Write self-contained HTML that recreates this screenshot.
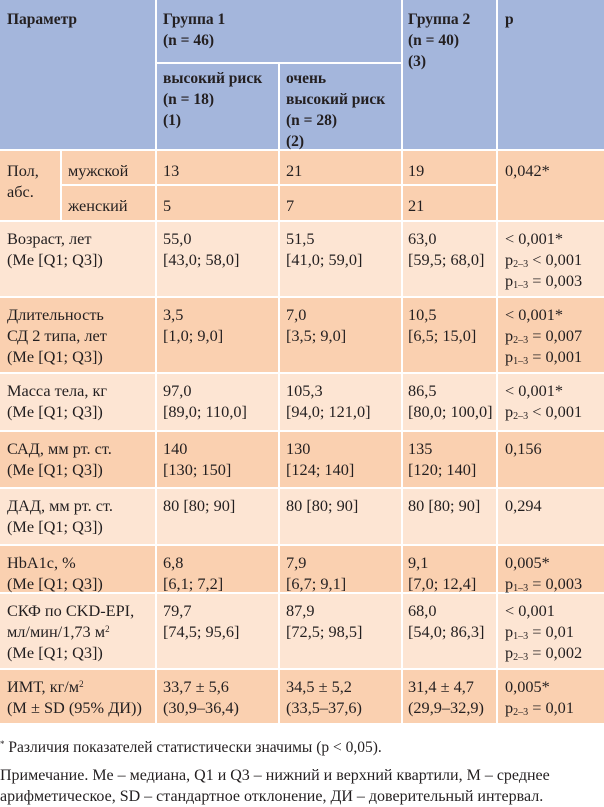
<!DOCTYPE html>
<html><head><meta charset="utf-8"><style>
body{margin:0;width:604px;height:800px;background:#fff;position:relative;font-family:"Liberation Serif",serif;font-size:16.3px;color:#231f20;overflow:hidden}
.c{position:absolute;box-sizing:border-box}
.t{position:absolute;line-height:21px;white-space:nowrap}
.h{font-weight:bold;font-size:15.5px}
.b{background:#a4b6dc}.d{background:#fad0b0}.l{background:#fde5d3}
sub{font-size:10px;vertical-align:-2px;line-height:0}
sup{font-size:9px;vertical-align:5px;line-height:0}
</style></head><body>
<div class="c b" style="left:0;top:0;width:155px;height:149px"></div>
<div class="c b" style="left:157px;top:0;width:244px;height:62px"></div>
<div class="c b" style="left:157px;top:64px;width:121px;height:85px"></div>
<div class="c b" style="left:280px;top:64px;width:121px;height:85px"></div>
<div class="c b" style="left:403px;top:0;width:93px;height:149px"></div>
<div class="c b" style="left:498px;top:0;width:106px;height:149px"></div>
<div class="t h" style="left:7px;top:9px">Параметр</div>
<div class="t h" style="left:163px;top:9px">Группа 1<br>(n = 46)</div>
<div class="t h" style="left:408px;top:9px">Группа 2<br>(n = 40)<br>(3)</div>
<div class="t h" style="left:505px;top:9px">p</div>
<div class="t h" style="left:163px;top:68px">высокий риск<br>(n = 18)<br>(1)</div>
<div class="t h" style="left:286px;top:68px">очень<br>высокий риск<br>(n = 28)<br>(2)</div>
<div class="c d" style="left:0;top:151px;width:60px;height:69px"></div>
<div class="c d" style="left:62px;top:151px;width:93px;height:33px"></div>
<div class="c d" style="left:62px;top:186px;width:93px;height:34px"></div>
<div class="c d" style="left:157px;top:151px;width:121px;height:33px"></div>
<div class="c d" style="left:157px;top:186px;width:121px;height:34px"></div>
<div class="c d" style="left:280px;top:151px;width:121px;height:33px"></div>
<div class="c d" style="left:280px;top:186px;width:121px;height:34px"></div>
<div class="c d" style="left:403px;top:151px;width:93px;height:33px"></div>
<div class="c d" style="left:403px;top:186px;width:93px;height:34px"></div>
<div class="c d" style="left:498px;top:151px;width:106px;height:69px"></div>
<div class="t" style="left:7px;top:160px">Пол,<br>абс.</div>
<div class="t" style="left:68px;top:160px">мужской</div>
<div class="t" style="left:68px;top:195px">женский</div>
<div class="t" style="left:163px;top:160px">13</div><div class="t" style="left:163px;top:195px">5</div>
<div class="t" style="left:286px;top:160px">21</div><div class="t" style="left:286px;top:195px">7</div>
<div class="t" style="left:408px;top:160px">19</div><div class="t" style="left:408px;top:195px">21</div>
<div class="t" style="left:505px;top:160px">0,042*</div>
<div id="rows"></div>
<script>
var rows=[
[222,296,'l',['Возраст, лет<br>(Me [Q1; Q3])','55,0<br>[43,0; 58,0]','51,5<br>[41,0; 59,0]','63,0<br>[59,5; 68,0]','&lt; 0,001*<br>p<sub>2–3</sub> &lt; 0,001<br>p<sub>1–3</sub> = 0,003']],
[298,372,'d',['Длительность<br>СД 2 типа, лет<br>(Me [Q1; Q3])','3,5<br>[1,0; 9,0]','7,0<br>[3,5; 9,0]','10,5<br>[6,5; 15,0]','&lt; 0,001*<br>p<sub>2–3</sub> = 0,007<br>p<sub>1–3</sub> = 0,001']],
[374,430,'l',['Масса тела, кг<br>(Me [Q1; Q3])','97,0<br>[89,0; 110,0]','105,3<br>[94,0; 121,0]','86,5<br>[80,0; 100,0]','&lt; 0,001*<br>p<sub>2–3</sub> &lt; 0,001']],
[432,487,'d',['САД, мм рт. ст.<br>(Me [Q1; Q3])','140<br>[130; 150]','130<br>[124; 140]','135<br>[120; 140]','0,156']],
[489,544,'l',['ДАД, мм рт. ст.<br>(Me [Q1; Q3])','80 [80; 90]','80 [80; 90]','80 [80; 90]','0,294']],
[546,592,'d',['HbA1c, %<br>(Me [Q1; Q3])','6,8<br>[6,1; 7,2]','7,9<br>[6,7; 9,1]','9,1<br>[7,0; 12,4]','0,005*<br>p<sub>1–3</sub> = 0,003']],
[594,668,'l',['СКФ по CKD-EPI,<br>мл/мин/1,73 м<sup>2</sup><br>(Me [Q1; Q3])','79,7<br>[74,5; 95,6]','87,9<br>[72,5; 98,5]','68,0<br>[54,0; 86,3]','&lt; 0,001<br>p<sub>1–3</sub> = 0,01<br>p<sub>2–3</sub> = 0,002']],
[670,723,'d',['ИМТ, кг/м<sup>2</sup><br>(M ± SD (95% ДИ))','33,7 ± 5,6<br>(30,9–36,4)','34,5 ± 5,2<br>(33,5–37,6)','31,4 ± 4,7<br>(29,9–32,9)','0,005*<br>p<sub>2–3</sub> = 0,01']]
];
var cols=[[0,155,7],[157,121,163],[280,121,286],[403,93,408],[498,106,505]];
var h='';
rows.forEach(function(r){
 var top=r[0],ht=r[1]-r[0];
 cols.forEach(function(c,i){
  h+='<div class="c '+r[2]+'" style="left:'+c[0]+'px;top:'+top+'px;width:'+c[1]+'px;height:'+ht+'px"></div>';
  h+='<div class="t" style="left:'+c[2]+'px;top:'+(top+6)+'px">'+r[3][i]+'</div>';
 });
});
document.getElementById('rows').innerHTML=h;
</script>
<div class="t" style="left:0;top:737px;font-size:15.5px"><sup>*</sup> Различия показателей статистически значимы (p &lt; 0,05).</div>
<div class="t" style="left:0;top:765px;font-size:16px">Примечание. Me – медиана, Q1 и Q3 – нижний и верхний квартили, M – среднее<br>арифметическое, SD – стандартное отклонение, ДИ – доверительный интервал.</div>
</body></html>
